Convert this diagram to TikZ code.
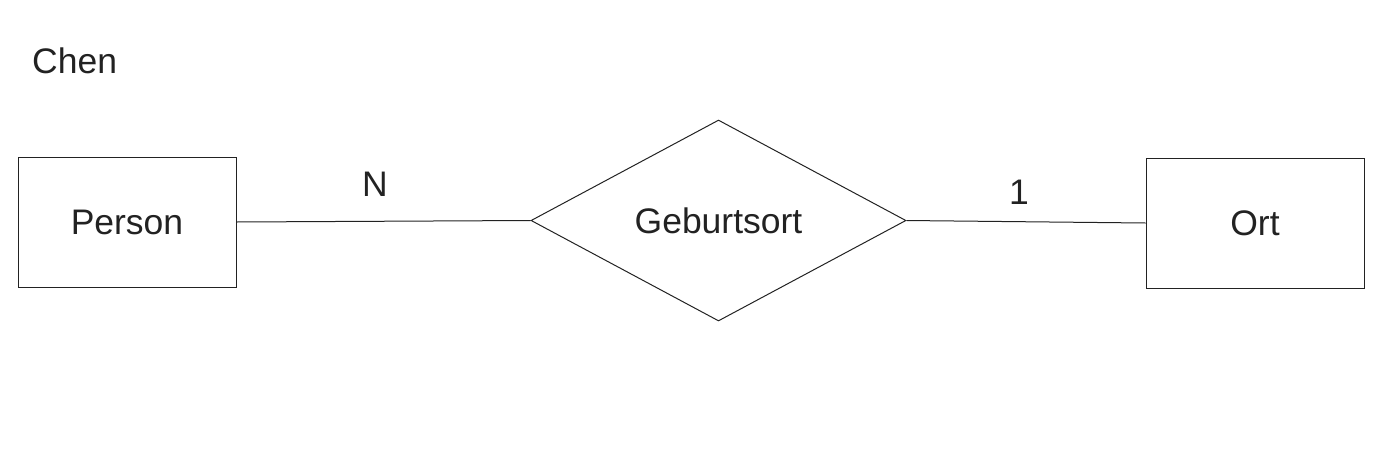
\documentclass[tikz,border=0pt]{standalone}
\usepackage{fontspec}
\setmainfont{Liberation Sans}
\usetikzlibrary{shapes.geometric}
\definecolor{ln}{HTML}{222222}
\begin{document}
\begin{tikzpicture}[x=1pt,y=-1pt,
  lbl/.style={font=\fontsize{35.5}{42}\selectfont, text=ln, inner sep=0pt},
  ent/.style={draw=ln, line width=1pt, minimum width=218pt, minimum height=130pt, inner sep=0pt, lbl},
  rel/.style={draw=ln, line width=1pt, diamond, minimum width=375pt, minimum height=201pt, inner sep=0pt, lbl},
  conn/.style={draw=ln, line width=1pt}]
\useasboundingbox (0,0) rectangle (1379,469);
\node[lbl, anchor=west] (chen) at (32,61) {Chen};
\node[ent] (person) at (127,222) {Person};
\node[ent] (ort) at (1255,223) {Ort};
\node[rel] (geb) at (718.5,220.5) {Geburtsort};
\draw[conn] (person.east) -- (geb.west);
\draw[conn] (geb.east) -- (ort.west);
\node[lbl] (n) at (375,184) {N};
\node[lbl] (one) at (1019,192) {1};
\end{tikzpicture}
\end{document}
